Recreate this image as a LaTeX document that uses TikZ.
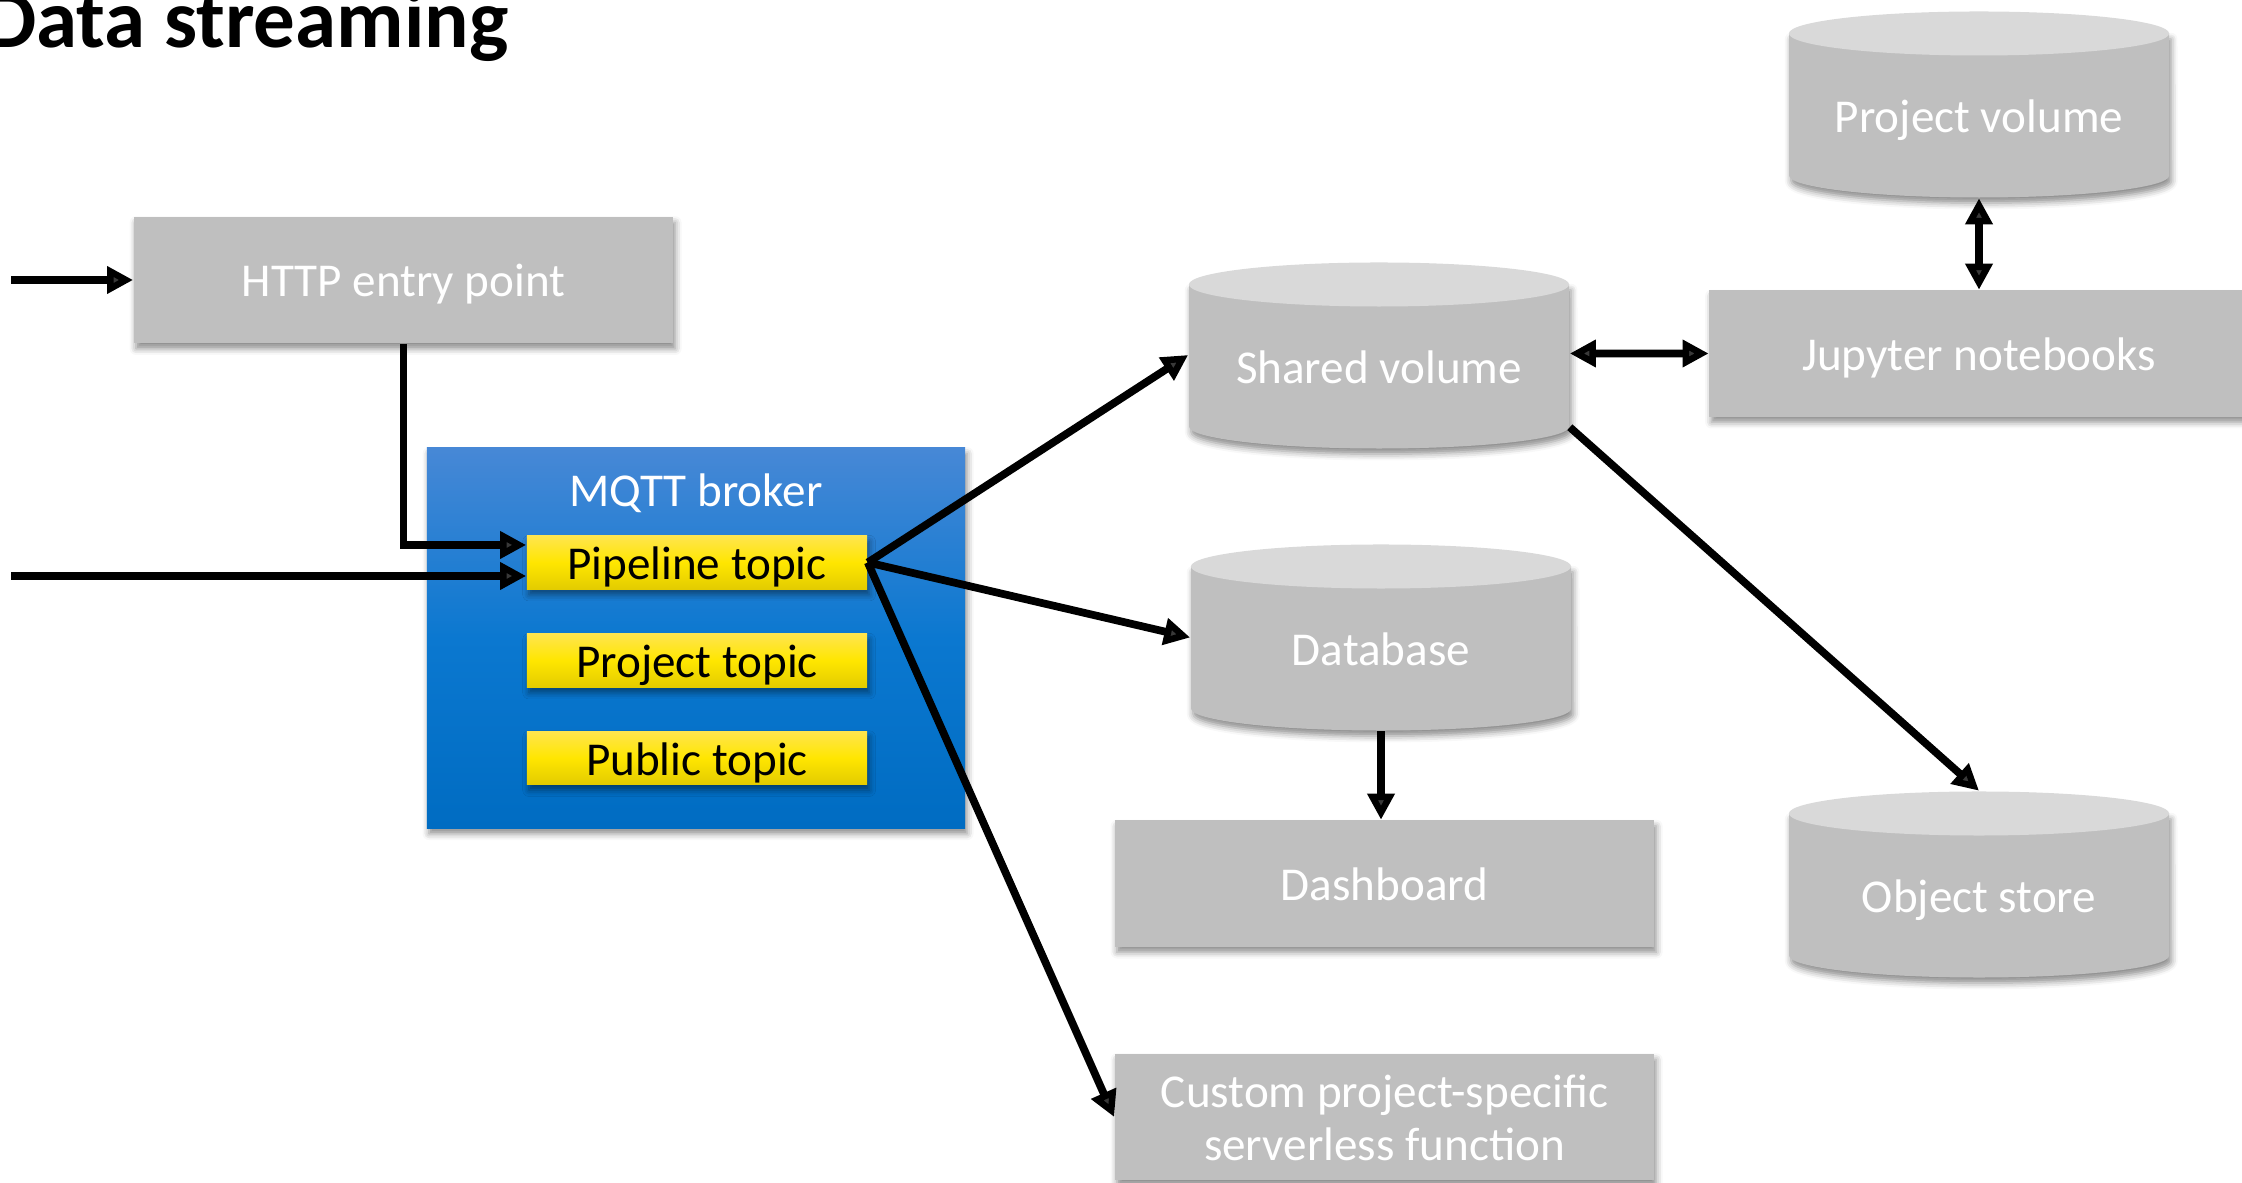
\documentclass[tikz,border=0pt]{standalone}
\usepackage{fontspec}
\setmainfont{Carlito}
\usetikzlibrary{arrows.meta,shadows.blur,calc}

\definecolor{boxgray}{HTML}{BFBFBF}
\definecolor{topgray}{HTML}{D9D9D9}
\definecolor{brokertop}{HTML}{4788D6}
\definecolor{brokermid}{HTML}{0B78D0}
\definecolor{brokerbot}{HTML}{006CC2}
\definecolor{topictop}{HTML}{FFE54D}
\definecolor{topicmid}{HTML}{FFE600}
\definecolor{topicbot}{HTML}{E3CC00}

\tikzset{
  txt/.style={font=\fontsize{13.4}{15.1}\selectfont, text height=0.5cm, text depth=0.16cm},
  softshadow/.style={blur shadow={shadow xshift=0.6pt, shadow yshift=-1.6pt,
      shadow blur radius=1.8pt, shadow opacity=45}},
  box/.style={txt, fill=boxgray, text=white, minimum width=5.39cm,
      minimum height=1.26cm, inner sep=0pt, align=center, softshadow},
  topic/.style={txt, text height=0.43cm, text depth=0.09cm, text=black,
      top color=topictop, bottom color=topicbot, middle color=topicmid,
      minimum width=3.4cm, minimum height=0.53cm, inner sep=0pt, softshadow},
  cyl/.style={txt, text=white, minimum width=3.8cm, minimum height=1.64cm,
      inner sep=0pt},
  link/.style={line width=2.2pt, -{Triangle[length=7.4pt,width=7.4pt]}},
  dlink/.style={line width=2.2pt,
      {Triangle[length=7.4pt,width=7.4pt]}-{Triangle[length=7.4pt,width=7.4pt]}},
}

% Storage cylinder around a body centred at (#1,#2): side with rounded
% bottom, then the lighter top lid
\newcommand\storagecyl[2]{%
  \fill[boxgray, softshadow] (#1-190,#2-82) -- (#1-190,#2+60)
    arc[start angle=180, end angle=360, x radius=1.9cm, y radius=0.22cm]
    -- (#1+190,#2-82) -- cycle;
  \fill[topgray] (#1,#2-82) ellipse[x radius=1.9cm, y radius=0.22cm];}

\begin{document}
\begin{tikzpicture}[x=0.01cm, y=-0.01cm]
\useasboundingbox (0,0) rectangle (2242,1183);

% Title
\node[font=\fontsize{23.6}{28}\selectfont\bfseries, anchor=base east, inner sep=0pt]
  (title) at (509,48) {Data streaming};

% Entry point and broker
\node[box] (http) at (403.5,280) {HTTP entry point};
\node[minimum width=5.38cm, minimum height=3.8cm, inner sep=0pt,
      top color=brokertop, bottom color=brokerbot, middle color=brokermid,
      softshadow] (broker) at (696,638) {};
\node[txt, text=white] (brokerlbl) at (696,489) {MQTT broker};
\node[topic] (pipe) at (697,562.5) {Pipeline topic};
\node[topic] (projtopic) at (697,660.5) {Project topic};
\node[topic] (pubtopic) at (697,758) {Public topic};

% Storage
\storagecyl{1379}{366.5}
\node[cyl] (shared) at (1379,366.5) {Shared volume};
\storagecyl{1381}{648.5}
\node[cyl] (db) at (1381,648.5) {Database};
\storagecyl{1979}{115.5}
\node[cyl] (projvol) at (1979,115.5) {Project volume};
\storagecyl{1979}{895.5}
\node[cyl] (objstore) at (1979,895.5) {Object store};

% Consumers
\node[box] (dash) at (1384.5,883.5) {Dashboard};
\node[box, text height=1.03cm] (custom) at (1384.5,1117)
  {Custom project-specific\\serverless function};
\node[box] (jup) at (1979,353.5) {Jupyter notebooks};

% Inputs
\coordinate (in1) at (11,280);
\coordinate (in2) at (11,576);

% Connectors
\draw[link] (in1) -- (http.west);
\draw[link] (in2) -- (in2 -| pipe.west);
\draw[link] (http.south) |- ([yshift=0.175cm]pipe.west);
\draw[link] (pipe.east) -- ([yshift=0.115cm]shared.west);
\draw[link] (pipe.east) -- ([yshift=0.11cm]db.west);
\draw[link] (pipe.east) -- (custom.west);
\draw[link] (db.south) -- (db.south |- dash.north);
\draw[dlink] ([yshift=0.13cm]shared.east) -- (jup.west);
\draw[dlink] (projvol.south) -- (jup.north);
\draw[link] ([yshift=0.22cm]shared.south east) -- ([yshift=0.22cm]objstore.north);
\end{tikzpicture}
\end{document}
